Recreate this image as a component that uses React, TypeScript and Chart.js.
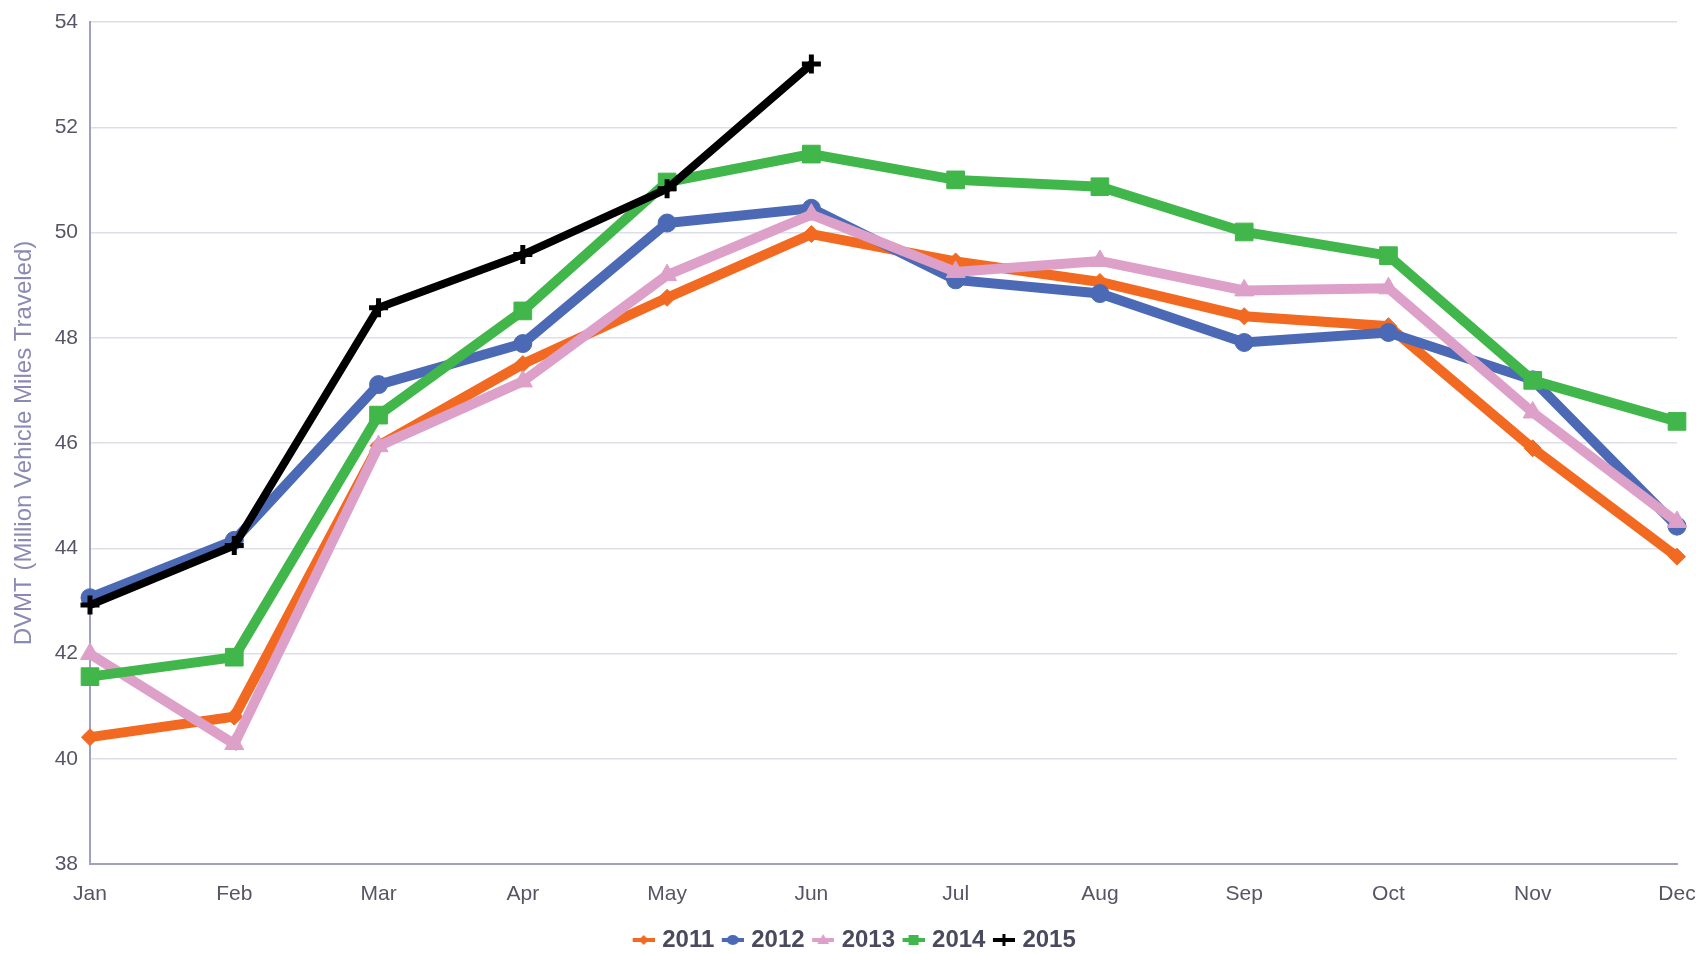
import React, { useEffect, useRef } from "react";
import { Chart, registerables } from "chart.js";

Chart.register(...registerables);

const months = ["Jan", "Feb", "Mar", "Apr", "May", "Jun", "Jul", "Aug", "Sep", "Oct", "Nov", "Dec"];
const yTicks = [38, 40, 42, 44, 46, 48, 50, 52, 54];
const seriesNames = ["2011", "2012", "2013", "2014", "2015"];

const v2011 = [40.41, 40.8, 45.95, 47.5, 48.76, 49.97, 49.45, 49.06, 48.41, 48.22, 45.9, 43.84];
const v2012 = [43.06, 44.15, 47.11, 47.89, 50.18, 50.46, 49.1, 48.84, 47.91, 48.1, 47.2, 44.42];
const v2013 = [41.99, 40.28, 45.94, 47.17, 49.19, 50.34, 49.25, 49.46, 48.9, 48.94, 46.58, 44.5];
const v2014 = [41.56, 41.93, 46.53, 48.51, 50.96, 51.49, 51.0, 50.87, 50.01, 49.56, 47.19, 46.41];
const v2015 = [42.92, 44.05, 48.57, 49.58, 50.83, 53.2];

const FONT = "'Liberation Sans', Arial, sans-serif";

function legendIcon(color: string, shape: string): HTMLCanvasElement {
  const c = document.createElement("canvas");
  c.width = 31;
  c.height = 14;
  const g = c.getContext("2d")!;
  g.fillStyle = color;
  g.strokeStyle = color;
  const ox = 9;
  g.fillRect(ox, 5, 22, 4);
  const cx = ox + 11, cy = 7;
  g.beginPath();
  if (shape === "diamond") {
    g.moveTo(cx, cy - 5); g.lineTo(cx + 5, cy); g.lineTo(cx, cy + 5); g.lineTo(cx - 5, cy); g.closePath(); g.fill();
  } else if (shape === "circle") {
    g.ellipse(cx, cy, 6, 5, 0, 0, Math.PI * 2); g.fill();
  } else if (shape === "triangle") {
    g.moveTo(cx, cy - 6); g.lineTo(cx + 6, cy + 4); g.lineTo(cx - 6, cy + 4); g.closePath(); g.fill();
  } else if (shape === "square") {
    g.fillRect(cx - 5, cy - 5, 10, 10);
  } else {
    g.fillRect(cx - 1.5, cy - 6, 3, 12);
    g.fillRect(cx - 6, cy - 1.5, 12, 3);
  }
  return c;
}

export default function App() {
  const ref = useRef<HTMLCanvasElement | null>(null);
  useEffect(() => {
    document.body.style.margin = "0";
    const ctx = ref.current!.getContext("2d")!;
    const mk = (label: string, data: number[], color: string, style: any, radius: number, order: number, bw = 10) => ({
      label,
      data,
      borderColor: color,
      backgroundColor: color,
      pointBackgroundColor: color,
      pointBorderColor: color,
      pointStyle: style,
      pointRadius: radius,
      pointBorderWidth: style === "cross" ? 5 : 1,
      borderWidth: bw,
      tension: 0,
      order,
    });
    const colors = ["#F26A21", "#4B69B4", "#DDA0C9", "#41B64A", "#000000"];
    const icons = [
      legendIcon(colors[0], "diamond"),
      legendIcon(colors[1], "circle"),
      legendIcon(colors[2], "triangle"),
      legendIcon(colors[3], "square"),
      legendIcon(colors[4], "plus"),
    ];
    const chart = new Chart(ctx, {
      type: "line",
      data: {
        labels: months,
        datasets: [
          mk(seriesNames[0], v2011, colors[0], "rectRot", 8.5, 4),
          mk(seriesNames[1], v2012, colors[1], "circle", 9, 3),
          mk(seriesNames[2], v2013, colors[2], "triangle", 11, 2),
          mk(seriesNames[3], v2014, colors[3], "rect", 12.5, 1),
          mk(seriesNames[4], v2015, colors[4], "cross", 9.5, 0, 8),
        ] as any,
      },
      options: {
        animation: false,
        responsive: false,
        maintainAspectRatio: false,
        layout: { padding: { left: 8, right: 0, top: 22, bottom: -8 } },
        plugins: {
          tooltip: { enabled: false },
          legend: {
            position: "bottom",
            labels: {
              usePointStyle: true,
              boxWidth: 22,
              boxHeight: 14,
              padding: 3,
              color: "#4a4a5e",
              font: { family: FONT, size: 24, weight: "bold" },
              sort: (a: any, b: any) => a.datasetIndex - b.datasetIndex,
              generateLabels: (ch: any) =>
                ch.data.datasets.map((ds: any, i: number) => ({
                  text: ds.label,
                  fillStyle: colors[i],
                  strokeStyle: colors[i],
                  lineWidth: 0,
                  pointStyle: icons[i],
                  hidden: false,
                  datasetIndex: i,
                  fontColor: "#4a4a5e",
                })),
            },
          },
        },
        scales: {
          x: {
            offset: false,
            grid: { display: false, drawTicks: false },
            border: { display: true, color: "#a0a0c0", width: 2 },
            ticks: { color: "#555566", font: { family: FONT, size: 21 }, padding: 18, maxRotation: 0, autoSkip: false },
            afterFit: (scale: any) => {
              scale.height = 61;
              scale.paddingRight = 19;
              scale.paddingLeft = 0;
            },
          },
          y: {
            min: 38,
            max: 54,
            afterBuildTicks: (scale: any) => {
              scale.ticks = yTicks.map((v) => ({ value: v }));
            },
            afterFit: (scale: any) => {
              scale.width = 82;
              scale.paddingTop = 0;
              scale.paddingBottom = 0;
            },
            grid: { color: "#dedeea", lineWidth: 1.5, drawTicks: false },
            border: { display: true, color: "#a0a0c0", width: 2 },
            ticks: { color: "#555566", font: { family: FONT, size: 21 }, padding: 12 },
            title: {
              display: true,
              text: "DVMT (Million Vehicle Miles Traveled)",
              color: "#8a8ab4",
              font: { family: FONT, size: 24 },
              padding: { top: 2, bottom: 4 },
            },
          },
        },
      } as any,
    });
    return () => chart.destroy();
  }, []);
  return (
    <div style={{ width: 1696, height: 954 }}>
      <canvas ref={ref} width={1696} height={954} style={{ display: "block" }} />
    </div>
  );
}
